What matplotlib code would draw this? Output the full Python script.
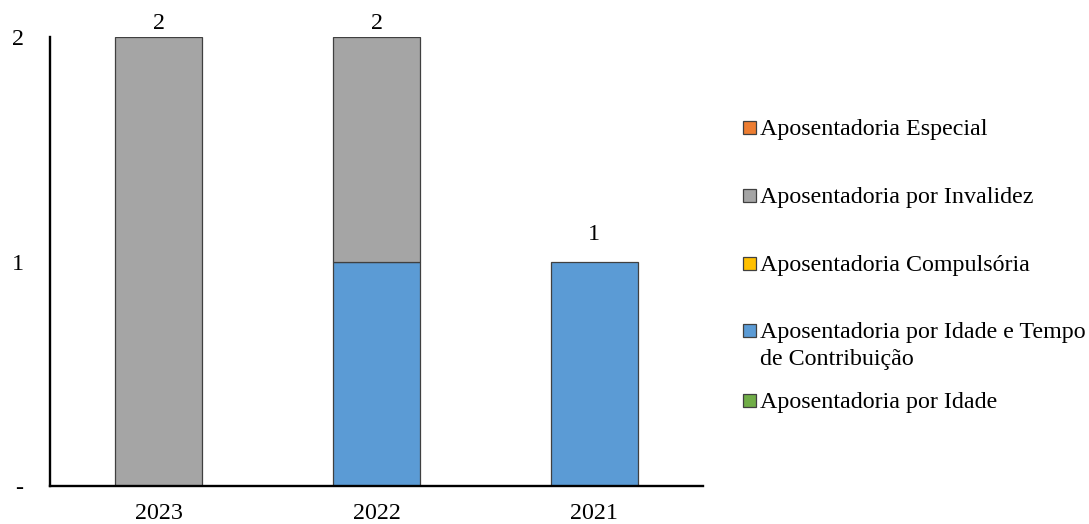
import matplotlib
matplotlib.use("Agg")
import matplotlib.pyplot as plt
from matplotlib.patches import Rectangle
import numpy as np

plt.rcParams['font.family'] = ['Liberation Serif', 'DejaVu Serif']

years = ["2023", "2022", "2021"]
series_names = [
    "Aposentadoria por Idade",
    "Aposentadoria por Idade e Tempo\nde Contribuição",
    "Aposentadoria Compulsória",
    "Aposentadoria por Invalidez",
    "Aposentadoria Especial",
]
idade = [0, 0, 0]
idade_tempo = [0, 1, 1]
compulsoria = [0, 0, 0]
invalidez = [2, 1, 0]
especial = [0, 0, 0]
colors = ["#70AD47", "#5B9BD5", "#FFC000", "#A5A5A5", "#ED7D31"]
y_ticks = [0, 1, 2]
y_tick_labels = ["-", "1", "2"]

FS = 17.3

fig = plt.figure(figsize=(10.89, 5.24), dpi=100)
ax = fig.add_axes([50/1089, 1-486/524, (703-50)/1089, (486-37)/524])

x = np.arange(len(years))
bottom = np.zeros(len(years))
all_series = [idade, idade_tempo, compulsoria, invalidez, especial]
for vals, col in zip(all_series, colors):
    vals = np.array(vals, dtype=float)
    mask = vals > 0
    ax.bar(x[mask], vals[mask], 0.4, bottom=bottom[mask], color=col,
           edgecolor="#404040", linewidth=0.9, zorder=2)
    bottom += vals

ax.set_xlim(-0.5, 2.5)
ax.set_ylim(0, 2)
ymax = ax.get_ylim()[1]
for xi, tot in zip(x, bottom):
    off = 2 if tot >= ymax else 12
    ax.annotate(f"{int(tot)}", (xi, tot), xytext=(0, off), textcoords="offset points",
                ha="center", va="bottom", fontsize=FS)

ax.set_xticks(x)
ax.set_xticklabels(years, fontsize=FS)
ax.set_yticks(y_ticks)
ax.set_yticklabels(y_tick_labels, fontsize=FS)
ax.tick_params(axis="x", length=0, pad=12)
ax.tick_params(axis="y", length=0, pad=19)
for s in ["top", "right"]:
    ax.spines[s].set_visible(False)
for s in ["left", "bottom"]:
    ax.spines[s].set_linewidth(1.7)
    ax.spines[s].set_color("black")
ax.spines["left"].set_zorder(3)

# legend (manual, Excel-like layout)
leg_y = [127, 195, 263, 330, 400]
leg_order = [4, 3, 2, 1, 0]
for yy, idx in zip(leg_y, leg_order):
    fig.patches.append(Rectangle((743/1089, 1-(yy+6.5)/524), 13/1089, 13/524,
                                 transform=fig.transFigure, facecolor=colors[idx],
                                 edgecolor="#404040", linewidth=0.9))
    lines = series_names[idx].split("\n")
    for k, ln in enumerate(lines):
        fig.text(760/1089, 1-(yy+k*27)/524, ln, fontsize=FS, ha="left", va="center_baseline")

fig.savefig("out.png", dpi=100)
